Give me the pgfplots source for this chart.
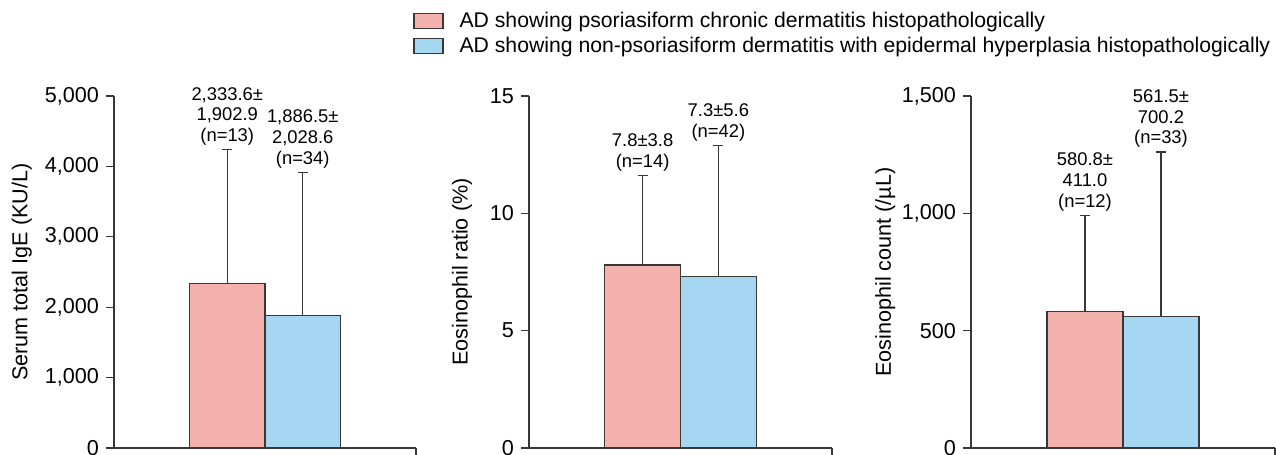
\documentclass[border=0pt]{standalone}
\usepackage{fontspec}
\setmainfont{Liberation Sans}
\usepackage{pgfplots}
\pgfplotsset{compat=1.18}
\definecolor{pinkc}{RGB}{244,178,174}
\definecolor{bluec}{RGB}{165,215,243}
\definecolor{axc}{RGB}{55,55,55}

\pgfplotsset{
  panel/.style={
    scale only axis, height=176pt, anchor=south west,
    xmin=0, xmax=4, ymin=0,
    axis x line*=bottom, axis y line*=left,
    axis line style={-, draw=axc, line width=0.6pt},
    xtick={4}, xticklabels={},
    xtick align=outside, ytick align=outside, major tick length=4pt,
    tick style={draw=axc, line width=0.6pt},
    ticklabel style={font=\fontsize{10.8}{13}\selectfont},
    /pgf/number format/1000 sep={,},
    /pgf/number format/assume math mode=true,
    label style={font=\fontsize{10.8}{13}\selectfont},
    ybar, bar shift=0pt, bar width=1,
    clip=false,
    error bars/y dir=plus, error bars/y explicit,
    error bars/error bar style={draw=axc, line width=0.6pt},
    error bars/error mark options={rotate=90, mark size=2.5pt, line width=0.6pt, draw=axc},
    every axis plot/.append style={draw=axc, line width=0.6pt},
  },
}
\tikzset{ann/.style={anchor=south, align=center, yshift=2pt, font=\fontsize{9.2}{10.3}\selectfont, inner sep=0pt}}

\begin{document}
\begin{tikzpicture}
\begin{axis}[panel, at={(57pt,3.5pt)}, width=151pt, ymax=5000, ytick={0,1000,...,5000},
  ylabel={Serum total IgE (KU/L)}, ylabel style={at={(axis description cs:-0.305,0.5)}, anchor=center}]
\addplot[fill=pinkc] coordinates {(1.5,2333.6) +- (0,1902.9)};
\addplot[fill=bluec] coordinates {(2.5,1886.5) +- (0,2028.6)};
\node[ann] at (axis cs:1.5,4236.5) {2,333.6±\\1,902.9\\(n=13)};
\node[ann] at (axis cs:2.5,3915.1) {1,886.5±\\2,028.6\\(n=34)};
\end{axis}

\begin{axis}[panel, at={(264.5pt,3.5pt)}, width=151.5pt, ymax=15, ytick={0,5,10,15},
  ylabel={Eosinophil ratio (\%)}, ylabel style={at={(axis description cs:-0.221,0.5)}, anchor=center},
  legend style={at={(axis description cs:-0.383,1.240)}, anchor=north west, draw=none, fill=none,
    inner sep=0pt, font=\fontsize{10.6}{12}\selectfont, row sep=3.3pt, cells={anchor=west},
    nodes={inner sep=0pt},
    /tikz/every odd column/.append style={column sep=8pt}},
  legend image code/.code={\draw[#1, draw=axc, line width=0.6pt] (0pt,-3.75pt) rectangle (14.5pt,3.75pt);}]
\addplot[fill=pinkc] coordinates {(1.5,7.8) +- (0,3.8)};
\addlegendentry{AD showing psoriasiform chronic dermatitis histopathologically}
\addplot[fill=bluec] coordinates {(2.5,7.3) +- (0,5.6)};
\addlegendentry{AD showing non-psoriasiform dermatitis with epidermal hyperplasia histopathologically}
\node[ann] at (axis cs:1.5,11.6) {7.8±3.8\\(n=14)};
\node[ann] at (axis cs:2.5,12.9) {7.3±5.6\\(n=42)};
\end{axis}

\begin{axis}[panel, at={(485.5pt,3.5pt)}, width=152pt, ymax=1500, ytick={0,500,1000,1500},
  ylabel={Eosinophil count (/µL)}, ylabel style={at={(axis description cs:-0.282,0.5)}, anchor=center}]
\addplot[fill=pinkc] coordinates {(1.5,580.8) +- (0,411.0)};
\addplot[fill=bluec] coordinates {(2.5,561.5) +- (0,700.2)};
\node[ann] at (axis cs:1.5,991.8) {580.8±\\411.0\\(n=12)};
\node[ann] at (axis cs:2.5,1261.7) {561.5±\\700.2\\(n=33)};
\end{axis}
\pgfresetboundingbox
\path[use as bounding box] (0,0) rectangle (638pt,227.5pt);
\end{tikzpicture}
\end{document}
